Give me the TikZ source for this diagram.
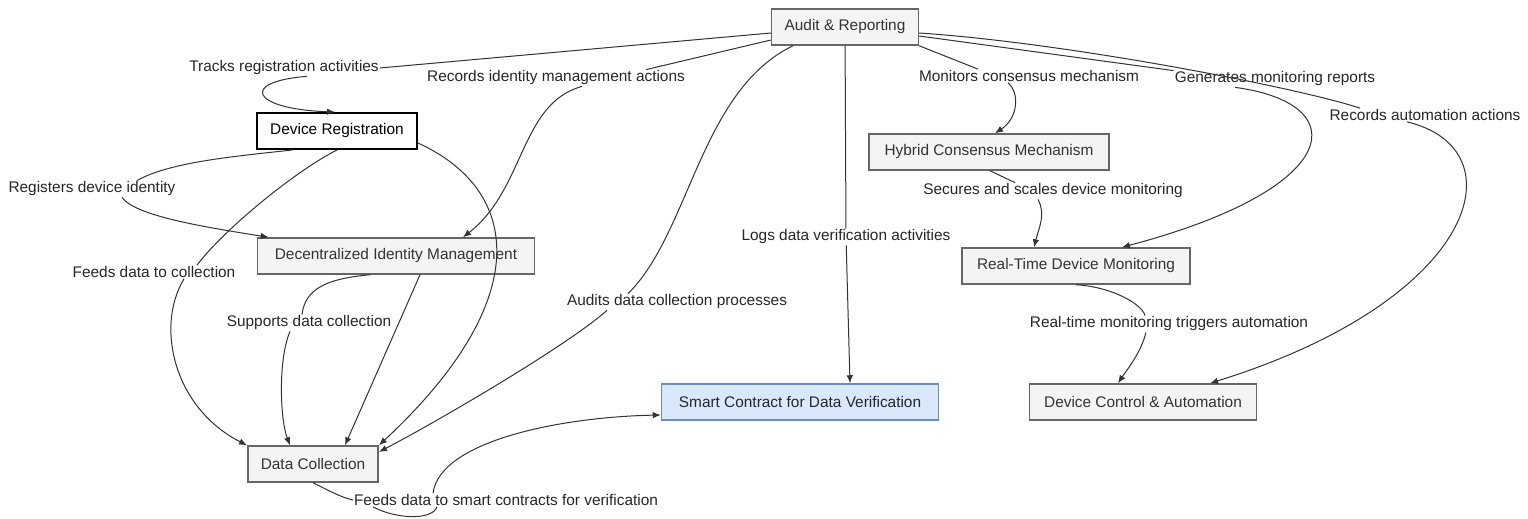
\documentclass[tikz,border=0pt]{standalone}
\usepackage{fontspec}
\setmainfont{Liberation Sans}
\usetikzlibrary{arrows.meta}
\definecolor{boxfill}{HTML}{F4F4F4}
\definecolor{boxline}{HTML}{666666}
\definecolor{bluefill}{HTML}{DAE8FC}
\definecolor{blueline}{HTML}{6C8EBF}
\definecolor{ink}{HTML}{333333}

\begin{document}
\begin{tikzpicture}[x=1pt,y=-1pt]
	\tikzset{stage/.style = {shape=rectangle, draw=boxline, line width=1.5pt,
			fill=boxfill, text=ink, minimum height=36pt, inner xsep=13pt,
			font=\fontsize{15.4}{18}\selectfont}}
	\tikzset{regstage/.style = {stage, draw=black, line width=2pt, fill=white, text=black}}
	\tikzset{verifystage/.style = {stage, draw=blueline, fill=bluefill, text=black!85}}
	\tikzset{lbl/.style = {inner sep=1pt, text=black!85, font=\fontsize{15.4}{18}\selectfont}}
	\tikzset{link/.style = {draw=ink, line width=1pt}}
	\tikzset{edge/.style = {link, ->, > = {Latex[length=8pt,width=6.5pt]}}}

	\useasboundingbox (0,0) rectangle (1528,519);

	% stages
	\node[stage, minimum width=145pt] (audit) at (845,27) {Audit \& Reporting};
	\node[regstage, minimum width=160pt] (reg) at (337,131) {Device Registration};
	\node[stage, minimum width=240pt] (hcm) at (989,152) {Hybrid Consensus Mechanism};
	\node[stage, minimum width=277pt] (did) at (396,256) {Decentralized Identity Management};
	\node[stage, minimum width=228pt] (rtm) at (1076,266) {Real-Time Device Monitoring};
	\node[stage, minimum width=130pt] (dc) at (313,464) {Data Collection};
	\node[verifystage, minimum width=277pt] (scv) at (800,402) {Smart Contract for Data Verification};
	\node[stage, minimum width=227pt] (dca) at (1143,402) {Device Control \& Automation};

	% labels
	\node[lbl] (lTrack) at (284,68) {Tracks registration activities};
	\node[lbl] (lRecId) at (556,78) {Records identity management actions};
	\node[lbl] (lAudit) at (677,302) {Audits data collection processes};
	\node[lbl] (lLogs) at (846,237) {Logs data verification activities};
	\node[lbl] (lMon) at (1029,76) {Monitors consensus mechanism};
	\node[lbl] (lGen) at (1275,79) {Generates monitoring reports};
	\node[lbl] (lRecAuto) at (1425,115) {Records automation actions};
	\node[lbl] (lReg) at (92,189) {Registers device identity};
	\node[lbl] (lFeedCol) at (154,272) {Feeds data to collection};
	\node[lbl] (lSup) at (309,323) {Supports data collection};
	\node[lbl] (lFeedSC) at (506,500) {Feeds data to smart contracts for verification};
	\node[lbl] (lSec) at (1053,191) {Secures and scales device monitoring};
	\node[lbl] (lRT) at (1169,324) {Real-time monitoring triggers automation};

	%edges
	\draw[link] ([yshift=-6pt]audit.west) -- (lTrack.east);
	\draw[edge] ([xshift=23pt]lTrack.south) .. controls +(-67,5) and +(-85,-3) .. ([xshift=-2pt]reg.north);

	\draw[link] ([yshift=-13pt]audit.west) -- ([xshift=-40pt]lRecId.north east);
	\draw[edge] ([xshift=26pt]lRecId.south) .. controls +(-62,17) and +(62,-48) .. ([xshift=67pt]did.north);

	\draw[link] ([xshift=-52pt]audit.south) .. controls +(-93,45) and +(62,-61) .. ([xshift=-49pt]lAudit.north);
	\draw[edge] ([xshift=-70pt]lAudit.south) .. controls +(-37,33) and +(70,-37) .. ([yshift=12pt]dc.east);

	\draw[link] (audit) -- (lLogs);
	\draw[edge] (lLogs) -- ([xshift=50pt]scv.north);

	\draw[link] (audit.south east) -- ([xshift=-51pt]lMon.north);
	\draw[edge] ([xshift=-21pt]lMon.south) .. controls +(12,10) and +(23,-15) .. ([xshift=6pt]hcm.north);

	\draw[link] ([yshift=-9pt]audit.east) -- (lGen.north west);
	\draw[edge] ([xshift=-40pt]lGen.south) .. controls +(120,16) and +(223,-59) .. ([xshift=46pt]rtm.north);

	\draw[link] ([yshift=-6pt]audit.east) .. controls +(150,10) and +(-60,-20) .. ([xshift=-65pt]lRecAuto.north);
	\draw[edge] ([xshift=-18pt]lRecAuto.south) .. controls +(113,27) and +(270,-84) .. ([xshift=67pt]dca.north);

	\draw[link] ([xshift=36pt]reg.south west) .. controls +(-53,6) and +(33,-19) .. ([xshift=45pt]lReg.north);
	\draw[edge] ([xshift=30pt]lReg.south) .. controls +(13,18) and +(-70,-11) .. ([xshift=12pt]did.north west);

	\draw[link] (reg.south) .. controls +(-40,20) and +(28,-37) .. ([xshift=43pt]lFeedCol.north);
	\draw[edge] ([xshift=30pt]lFeedCol.south) .. controls +(-29,48) and +(-73,-37) .. (dc.north west);

	\draw[edge] ([yshift=-12pt]reg.east) .. controls +(103,47) and +(157,-146) .. (dc.north east);

	\draw[link] ([xshift=-26pt]did.south) .. controls +(-45,4) and +(3,-25) .. ([xshift=-7pt]lSup.north);
	\draw[edge] ([xshift=-19pt]lSup.south) .. controls +(-12,28) and +(-10,-26) .. ([xshift=-23pt]dc.north);
	\draw[edge] ([xshift=24pt]did.south) -- ([xshift=32pt]dc.north);

	\draw[link] (dc.south) .. controls +(20,10) and +(-12,-3) .. (lFeedSC.west);
	\draw[link] ([xshift=-133pt]lFeedSC.south) .. controls +(22,12) and +(-5,14) .. ([xshift=-69pt]lFeedSC.south);
	\draw[edge] ([xshift=-73pt]lFeedSC.north) .. controls +(7,-52) and +(-101,2) .. ([yshift=-13pt]scv.west);

	\draw[link] ([xshift=1pt]hcm.south) -- ([xshift=-38pt]lSec.north);
	\draw[edge] ([xshift=-15pt]lSec.south) .. controls +(8,15) and +(5,-20) .. ([xshift=-42pt]rtm.north);

	\draw[link] (rtm.south) .. controls +(35,2) and +(-3,-12) .. ([xshift=-24pt]lRT.north);
	\draw[edge] ([xshift=-23pt]lRT.south) .. controls +(-5,20) and +(10,-15) .. ([xshift=-25pt]dca.north);

\end{tikzpicture}
\end{document}
